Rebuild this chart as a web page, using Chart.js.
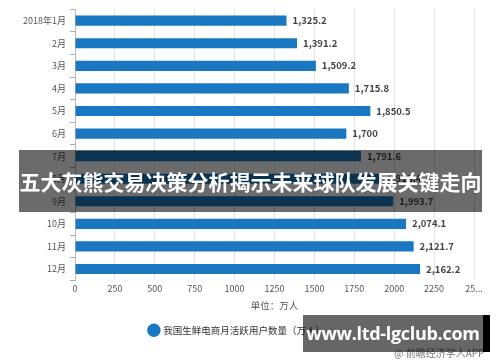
<!DOCTYPE html>
<html>
<head>
<meta charset="utf-8">
<script src="https://cdn.jsdelivr.net/npm/chart.js@4"></script>
<style>
    body { margin: 0; background: #fff; }
    #wrap { position: relative; width: 500px; height: 362px; }
    #source { position: absolute; left: 394px; top: 345px; font: 10px "Noto Sans CJK SC"; color: #777; }
    #banner {
        position: absolute; left: 19px; top: 150px; width: 463px; height: 62px;
        background: rgba(0, 0, 0, 0.58); color: #fff;
        font: bold 21px "Noto Sans CJK SC"; line-height: 62px; text-align: center; white-space: nowrap;
    }
    #url {
        position: absolute; left: 303px; top: 315px; width: 180px; height: 37px;
        background: rgba(0, 0, 0, 0.6); border-right: 7px solid #000; color: #fff;
        font: bold 18px "Open Sans"; letter-spacing: -0.3px; line-height: 37px; text-align: center; white-space: nowrap;
    }
</style>
</head>
<body>
<div id="wrap">
    <canvas id="chart" width="500" height="362"></canvas>
    <div id="source">@ 前瞻经济学人APP</div>
    <div id="banner">五大灰熊交易决策分析揭示未来球队发展关键走向</div>
    <div id="url">www.ltd-lgclub.com</div>
</div>
<script>
// Monthly active users, 2018 (万人)
const months = ["2018年1月", "2月", "3月", "4月", "5月", "6月", "7月", "8月", "9月", "10月", "11月", "12月"];
const users = [1325.2, 1391.2, 1509.2, 1715.8, 1850.5, 1700, 1791.6, 1918.4, 1993.7, 2074.1, 2121.7, 2162.2];
const seriesName = "我国生鲜电商月活跃用户数量（万人）";
const unitLabel = "单位：万人";

const font = "'Noto Sans CJK SC', sans-serif";

// values at the end of each bar
const valueLabels = {
    id: "valueLabels",
    afterDatasetsDraw(chart) {
        const ctx = chart.ctx;
        const meta = chart.getDatasetMeta(0);
        ctx.save();
        ctx.font = "bold 9.5px " + font;
        ctx.fillStyle = "#444";
        ctx.textBaseline = "middle";
        meta.data.forEach((bar, i) => {
            ctx.fillText(users[i].toLocaleString("en-US"), bar.x + 6, bar.y);
        });
        ctx.restore();
    }
};

new Chart(document.getElementById("chart"), {
    type: "bar",
    data: {
        labels: months,
        datasets: [{
            label: seriesName,
            data: users,
            backgroundColor: "#1a77c1",
            categoryPercentage: 1,
            barPercentage: 0.45
        }]
    },
    options: {
        indexAxis: "y",
        responsive: false,
        animation: false,
        layout: { padding: { top: 7, right: 26, bottom: 17, left: 0 } },
        scales: {
            x: {
                min: 0,
                max: 2500,
                ticks: {
                    stepSize: 250,
                    color: "#555",
                    font: { family: font, size: 9 },
                    padding: 3,
                    callback: v => v === 2500 ? "25..." : v
                },
                grid: { color: "#e2e2e2", drawTicks: false },
                border: { display: false },
                title: { display: true, text: unitLabel, color: "#555", font: { family: font, size: 9.5 }, padding: { top: 3, bottom: 0 } }
            },
            y: {
                afterFit: s => { s.width = 75; },
                ticks: { color: "#555", font: { family: font, size: 9 }, padding: 4 },
                grid: { drawOnChartArea: false, tickLength: 5, color: "#aaa" },
                border: { color: "#bbb" }
            }
        },
        plugins: {
            legend: {
                position: "bottom",
                labels: {
                    usePointStyle: true,
                    pointStyle: "circle",
                    boxWidth: 10,
                    boxHeight: 10,
                    color: "#333",
                    font: { family: font, size: 9.5 },
                    padding: 14
                }
            },
            tooltip: { enabled: false }
        }
    },
    plugins: [valueLabels]
});
</script>
</body>
</html>
